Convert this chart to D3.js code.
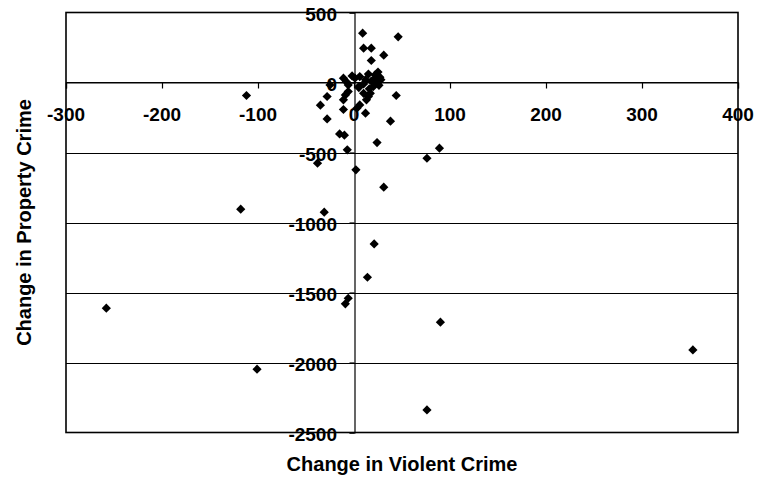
<!DOCTYPE html>
<html>
<head>
<meta charset="utf-8">
<script src="https://cdn.jsdelivr.net/npm/d3@7"></script>
<style>
  html, body { margin: 0; padding: 0; background: #fff; }
  svg { display: block; }
  text { font-family: "Liberation Sans", Arial, sans-serif; font-weight: bold; fill: #000; }
</style>
</head>
<body>
<svg id="chart" width="760" height="487"></svg>
<script>
// Change in violent crime vs. change in property crime, one point per area
const violentChange = [
  -258, -118, -112, -101, -38, -31, -35, -28, -28, -25,
  -15, -10, -7, 2, 24, 31, 21, 14, -6, -9,
  76, 89, 90, 353, 76, 9, 46, 10, 18, 31,
  18, 44, 38, 12, 3, -11, -11, -9, -6, 6,
  13, 15, 17, 10, 5, -11, -8, -2, 1, 6,
  -6, 5, 27, 22, 24, 12, 15, 18, 20, 25,
  28, 16, 22, 26, 10
];
const propertyChange = [
  -1612, -905, -93, -2048, -576, -926, -162, -100, -260, -17,
  -367, -376, -481, -624, -429, -748, -1153, -1391, -1541, -1581,
  -541, -469, -1712, -1910, -2339, 352, 326, 245, 245, 195,
  157, -93, -276, -219, -184, -193, -124, -89, -65, -160,
  -124, -100, -77, -77, -29, 31, 6, 47, 31, 42,
  -17, -36, 38, 54, -5, 20, 60, 10, -30, 75,
  20, -45, 30, -20, -10
];
const xTickValues = [-300, -200, -100, 0, 100, 200, 300, 400];
const yTickValues = [500, 0, -500, -1000, -1500, -2000, -2500];
const xTitle = "Change in Violent Crime";
const yTitle = "Change in Property Crime";

const points = violentChange.map((v, i) => ({ v, p: propertyChange[i] }));

const svg = d3.select("#chart");
const plot = { left: 66, right: 738, top: 12.5, bottom: 432.5 };

const x = d3.scaleLinear().domain([-300, 400]).range([plot.left, plot.right]);
const y = d3.scaleLinear().domain([-2500, 500]).range([plot.bottom, plot.top]);

const tickFont = 19;
const titleFont = 20;

// horizontal gridlines
svg.append("g")
  .selectAll("line")
  .data(yTickValues.filter(d => d > -2500 && d < 500))
  .join("line")
  .attr("x1", plot.left).attr("x2", plot.right)
  .attr("y1", d => Math.round(y(d)) + 0.5).attr("y2", d => Math.round(y(d)) + 0.5)
  .attr("stroke", "#000").attr("stroke-width", 1.2);

// plot frame
svg.append("rect")
  .attr("x", plot.left).attr("y", plot.top)
  .attr("width", plot.right - plot.left).attr("height", plot.bottom - plot.top)
  .attr("fill", "none").attr("stroke", "#000").attr("stroke-width", 1.6);

// x axis through y = 0, ticks pointing down
const xAxis = d3.axisBottom(x).tickValues(xTickValues).tickSize(6).tickFormat("");
const gx = svg.append("g").attr("transform", `translate(0,${Math.round(y(0)) + 0.5})`).call(xAxis);
gx.select(".domain").attr("stroke", "#000").attr("stroke-width", 1.2);
gx.selectAll(".tick line").attr("stroke", "#000").attr("stroke-width", 1.2);

// y axis through x = 0, ticks pointing left
const yAxis = d3.axisLeft(y).tickValues(yTickValues).tickSize(5).tickFormat("");
const gy = svg.append("g").attr("transform", `translate(${Math.round(x(0)) + 0.5},0)`).call(yAxis);
gy.select(".domain").attr("stroke", "#000").attr("stroke-width", 1.2);
gy.selectAll(".tick line").attr("stroke", "#000").attr("stroke-width", 1.2);

// tick labels
svg.append("g")
  .selectAll("text")
  .data(xTickValues)
  .join("text")
  .attr("x", d => x(d))
  .attr("y", y(0) + 38)
  .attr("text-anchor", "middle")
  .attr("font-size", tickFont)
  .text(d => d);

svg.append("g")
  .selectAll("text")
  .data(yTickValues)
  .join("text")
  .attr("x", x(0) - 17)
  .attr("y", d => y(d) + 8)
  .attr("text-anchor", "end")
  .attr("font-size", tickFont)
  .text(d => d);

// markers: small diamonds
const diamond = "M0,-4.6L4.6,0L0,4.6L-4.6,0Z";
svg.append("g")
  .selectAll("path")
  .data(points)
  .join("path")
  .attr("d", diamond)
  .attr("transform", d => `translate(${x(d.v)},${y(d.p)})`)
  .attr("fill", "#000");

// axis titles
svg.append("text")
  .attr("x", (plot.left + plot.right) / 2)
  .attr("y", 471)
  .attr("text-anchor", "middle")
  .attr("font-size", titleFont)
  .text(xTitle);

svg.append("text")
  .attr("transform", `translate(31,${(plot.top + plot.bottom) / 2}) rotate(-90)`)
  .attr("text-anchor", "middle")
  .attr("font-size", titleFont)
  .text(yTitle);
</script>
</body>
</html>
